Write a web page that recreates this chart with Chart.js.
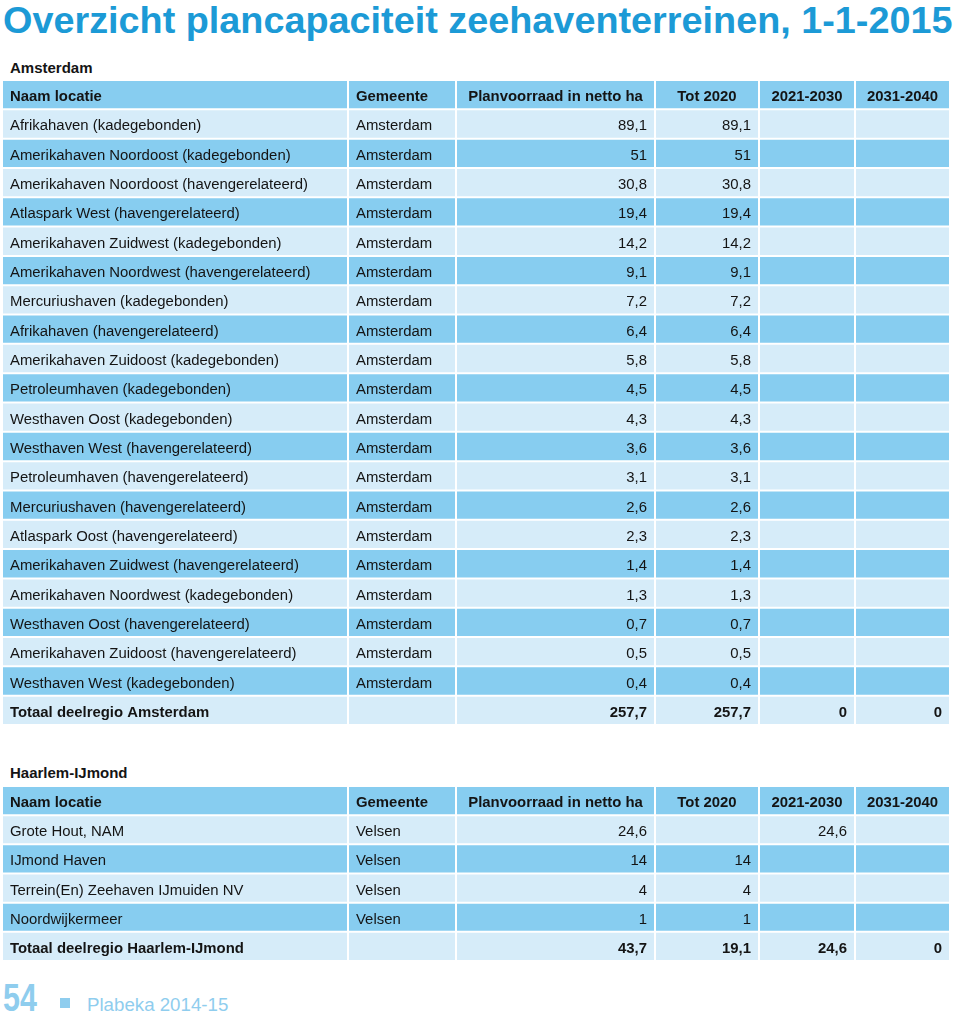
<!DOCTYPE html>
<html>
<head>
<meta charset="utf-8">
<script src="https://cdn.jsdelivr.net/npm/chart.js@4.4.0/dist/chart.umd.min.js"></script>
<style>
body { margin: 0; background: #fff; width: 960px; height: 1018px; position: relative; overflow: hidden;
       font-family: "Liberation Sans", Arial, sans-serif; }
.title { position: absolute; left: 3px; top: 1px; font-size: 37.8px; line-height: 38px; font-weight: bold;
         color: #1c9ad6; white-space: nowrap; }
.region { position: absolute; left: 10px; font-size: 15px; line-height: 15px; font-weight: bold; color: #141414; }
canvas { position: absolute; left: 2px; }
.pagenr { position: absolute; left: 3px; top: 978px; font-size: 39px; line-height: 39px; font-weight: bold;
          color: #8fcdee; transform: scaleX(0.78); transform-origin: left top; }
.blokje { position: absolute; left: 60px; top: 998px; width: 10px; height: 10px; background: #8fcdee; }
.bron { position: absolute; left: 87px; top: 995px; font-size: 18.7px; line-height: 19px; color: #8fcdee; }
</style>
</head>
<body>
<div class="title">Overzicht plancapaciteit zeehaventerreinen, 1-1-2015</div>
<div class="region" style="top:60px">Amsterdam</div>
<canvas id="amsterdam" width="948" height="645" style="top:80px"></canvas>
<div class="region" style="top:765px">Haarlem-IJmond</div>
<canvas id="haarlem" width="948" height="175" style="top:786px"></canvas>
<div class="pagenr">54</div>
<div class="blokje"></div>
<div class="bron">Plabeka 2014-15</div>

<script>
var kolommen = ['Naam locatie', 'Gemeente', 'Planvoorraad in netto ha', 'Tot 2020', '2021-2030', '2031-2040'];

// Amsterdam
var amsLocaties = [
    'Afrikahaven (kadegebonden)', 'Amerikahaven Noordoost (kadegebonden)',
    'Amerikahaven Noordoost (havengerelateerd)', 'Atlaspark West (havengerelateerd)',
    'Amerikahaven Zuidwest (kadegebonden)', 'Amerikahaven Noordwest (havengerelateerd)',
    'Mercuriushaven (kadegebonden)', 'Afrikahaven (havengerelateerd)',
    'Amerikahaven Zuidoost (kadegebonden)', 'Petroleumhaven (kadegebonden)',
    'Westhaven Oost (kadegebonden)', 'Westhaven West (havengerelateerd)',
    'Petroleumhaven (havengerelateerd)', 'Mercuriushaven (havengerelateerd)',
    'Atlaspark Oost (havengerelateerd)', 'Amerikahaven Zuidwest (havengerelateerd)',
    'Amerikahaven Noordwest (kadegebonden)', 'Westhaven Oost (havengerelateerd)',
    'Amerikahaven Zuidoost (havengerelateerd)', 'Westhaven West (kadegebonden)'
];
var amsGemeente = ['Amsterdam', 'Amsterdam', 'Amsterdam', 'Amsterdam', 'Amsterdam', 'Amsterdam', 'Amsterdam',
    'Amsterdam', 'Amsterdam', 'Amsterdam', 'Amsterdam', 'Amsterdam', 'Amsterdam', 'Amsterdam', 'Amsterdam',
    'Amsterdam', 'Amsterdam', 'Amsterdam', 'Amsterdam', 'Amsterdam'];
var amsPlan = [89.1, 51, 30.8, 19.4, 14.2, 9.1, 7.2, 6.4, 5.8, 4.5, 4.3, 3.6, 3.1, 2.6, 2.3, 1.4, 1.3, 0.7, 0.5, 0.4];
var amsTot2020 = [89.1, 51, 30.8, 19.4, 14.2, 9.1, 7.2, 6.4, 5.8, 4.5, 4.3, 3.6, 3.1, 2.6, 2.3, 1.4, 1.3, 0.7, 0.5, 0.4];
var ams2021 = [null, null, null, null, null, null, null, null, null, null, null, null, null, null, null, null, null, null, null, null];
var ams2031 = [null, null, null, null, null, null, null, null, null, null, null, null, null, null, null, null, null, null, null, null];
var amsTotaal = [257.7, 257.7, 0, 0];

// Haarlem-IJmond
var hijLocaties = ['Grote Hout, NAM', 'IJmond Haven', 'Terrein(En) Zeehaven IJmuiden NV', 'Noordwijkermeer'];
var hijGemeente = ['Velsen', 'Velsen', 'Velsen', 'Velsen'];
var hijPlan = [24.6, 14, 4, 1];
var hijTot2020 = [null, 14, 4, 1];
var hij2021 = [24.6, null, null, null];
var hij2031 = [null, null, null, null];
var hijTotaal = [43.7, 19.1, 24.6, 0];

// opmaak
var kolomBreedte = [346, 108, 199, 104, 96, 95];
var donker = '#87cdf0', licht = '#d6ecf9';
var letter = '"Liberation Sans", Arial, sans-serif';

function fmt(v) {
    return v == null ? '' : String(v).replace('.', ',');
}

function maakRijen(loc, gem, plan, tot, a, b, totLabel, totaal) {
    var rijen = [kolommen];
    for (var i = 0; i < loc.length; i++) {
        rijen.push([loc[i], gem[i], fmt(plan[i]), fmt(tot[i]), fmt(a[i]), fmt(b[i])]);
    }
    rijen.push([totLabel, ''].concat(totaal.map(fmt)));
    return rijen;
}

function maakTabel(id, rijen) {
    var celTekst = {
        id: 'celTekst',
        afterDatasetsDraw: function(chart) {
            var ctx = chart.ctx;
            ctx.save();
            ctx.fillStyle = '#141414';
            ctx.textBaseline = 'alphabetic';
            for (var c = 0; c < kolommen.length; c++) {
                chart.getDatasetMeta(c).data.forEach(function(el, r) {
                    var p = el.getProps(['x', 'y', 'base'], true);
                    var links = Math.min(p.x, p.base), rechts = Math.max(p.x, p.base);
                    var vet = r === 0 || r === rijen.length - 1;
                    ctx.font = (vet ? 'bold ' : '') + '14.9px ' + letter;
                    var tx;
                    if (c < 2) {
                        ctx.textAlign = 'left';
                        tx = links + 8;
                    } else if (r === 0) {
                        ctx.textAlign = 'center';
                        tx = (links + rechts) / 2;
                    } else {
                        ctx.textAlign = 'right';
                        tx = rechts - 8;
                    }
                    ctx.fillText(rijen[r][c], tx, p.y + 6.5);
                });
            }
            ctx.restore();
        }
    };

    return new Chart(document.getElementById(id), {
        type: 'bar',
        data: {
            labels: rijen.map(function(r) { return r[0]; }),
            datasets: kolommen.map(function(k, c) {
                return {
                    label: k,
                    data: rijen.map(function() { return kolomBreedte[c]; }),
                    backgroundColor: function(ctx) { return ctx.dataIndex % 2 === 1 ? licht : donker; },
                    borderColor: '#ffffff',
                    borderWidth: 1,
                    borderSkipped: false,
                    inflateAmount: 0,
                    barPercentage: 1,
                    categoryPercentage: 1
                };
            })
        },
        options: {
            indexAxis: 'y',
            responsive: false,
            animation: false,
            devicePixelRatio: 1,
            layout: { padding: 0 },
            events: [],
            scales: {
                x: { type: 'linear', stacked: true, display: false, min: 0, max: 948 },
                y: { stacked: true, display: false }
            },
            plugins: {
                legend: { display: false },
                tooltip: { enabled: false }
            }
        },
        plugins: [celTekst]
    });
}

maakTabel('amsterdam', maakRijen(amsLocaties, amsGemeente, amsPlan, amsTot2020, ams2021, ams2031,
    'Totaal deelregio Amsterdam', amsTotaal));
maakTabel('haarlem', maakRijen(hijLocaties, hijGemeente, hijPlan, hijTot2020, hij2021, hij2031,
    'Totaal deelregio Haarlem-IJmond', hijTotaal));
</script>
</body>
</html>
